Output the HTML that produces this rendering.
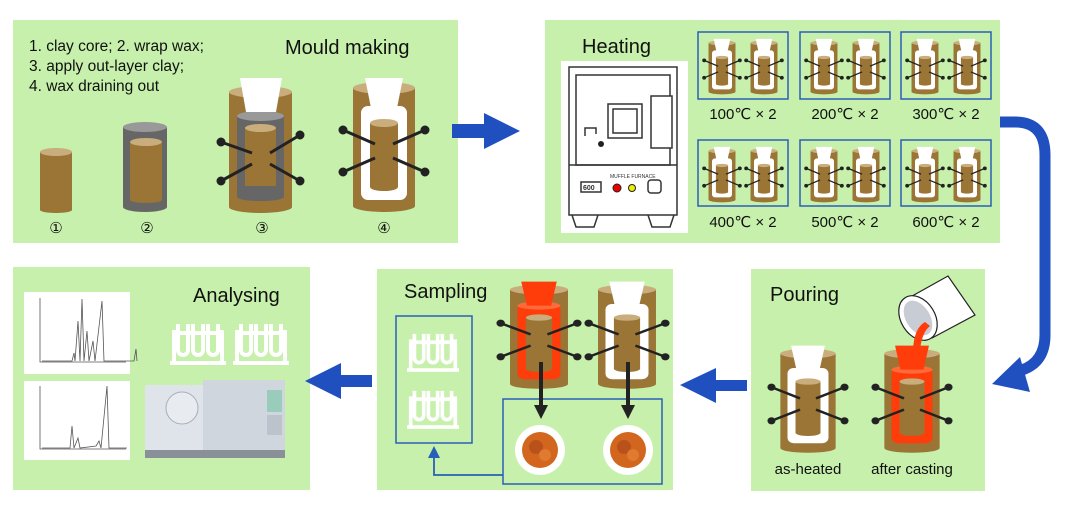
<!DOCTYPE html>
<html><head><meta charset="utf-8"><style>
html,body{margin:0;padding:0;background:#fff;}
svg{display:block;font-family:"Liberation Sans","DejaVu Sans",sans-serif;}
</style></head><body>
<svg width="1080" height="512" viewBox="0 0 1080 512" xmlns="http://www.w3.org/2000/svg">
<defs>
<g id="pins" stroke="#222" stroke-width="3" fill="#222">
  <line x1="-10" y1="52" x2="22" y2="66"/><line x1="72" y1="52" x2="40" y2="66"/>
  <line x1="-10" y1="94" x2="22" y2="80"/><line x1="72" y1="94" x2="40" y2="80"/>
  <circle cx="-10" cy="52" r="3"/><circle cx="72" cy="52" r="3"/>
  <circle cx="-10" cy="94" r="3"/><circle cx="72" cy="94" r="3"/>
</g>
<symbol id="mw" viewBox="-15 -2 92 140" preserveAspectRatio="none">
  <rect x="0" y="10" width="62" height="118" fill="#9a7535"/>
  <ellipse cx="31" cy="128" rx="31" ry="6" fill="#9a7535"/>
  <ellipse cx="31" cy="10" rx="31" ry="6" fill="#c9ad7c"/>
  <rect x="8" y="28" width="46" height="94" rx="7" fill="#fff"/>
  <rect x="17" y="45" width="28" height="64" fill="#9a7535"/>
  <ellipse cx="31" cy="109" rx="14" ry="4" fill="#9a7535"/>
  <ellipse cx="31" cy="45" rx="14" ry="4" fill="#c9ad7c"/>
  <polygon points="12,0 50,0 44,30 18,30" fill="#fff"/>
  <use href="#pins"/>
</symbol>
<symbol id="mo" viewBox="-15 -2 92 140" preserveAspectRatio="none">
  <rect x="0" y="10" width="62" height="118" fill="#9a7535"/>
  <ellipse cx="31" cy="128" rx="31" ry="6" fill="#9a7535"/>
  <ellipse cx="31" cy="10" rx="31" ry="6" fill="#c9ad7c"/>
  <rect x="8" y="28" width="46" height="94" rx="7" fill="#ff3d0a"/>
  <ellipse cx="31" cy="30" rx="23" ry="5" fill="#ff6a3a"/>
  <rect x="17" y="45" width="28" height="64" fill="#9a7535"/>
  <ellipse cx="31" cy="109" rx="14" ry="4" fill="#9a7535"/>
  <ellipse cx="31" cy="45" rx="14" ry="4" fill="#c9ad7c"/>
  <polygon points="12,0 50,0 44,30 18,30" fill="#ff3d0a"/>
  <use href="#pins"/>
</symbol>
<symbol id="rack" viewBox="0 0 56 46">
  <g fill="none" stroke="#fff" stroke-width="4">
    <path d="M8,4 V30 a5,5 0 0 0 10,0 V4"/>
    <path d="M23,4 V30 a5,5 0 0 0 10,0 V4"/>
    <path d="M38,4 V30 a5,5 0 0 0 10,0 V4"/>
    <line x1="4" y1="13" x2="52" y2="13"/>
    <line x1="4" y1="10" x2="4" y2="42"/><line x1="52" y1="10" x2="52" y2="42"/>
    <line x1="0" y1="43" x2="56" y2="43"/>
  </g>
</symbol>
<symbol id="plate" viewBox="0 0 50 50">
  <circle cx="25" cy="25" r="25" fill="#fff"/>
  <circle cx="25" cy="25" r="18" fill="#d2661e"/>
  <circle cx="21" cy="22" r="7" fill="#b8521a"/><circle cx="30" cy="30" r="6" fill="#e07a30"/>
</symbol>
</defs>

<rect x="13" y="20" width="445" height="223" fill="#c6f0ab"/>
<rect x="545" y="20" width="455" height="223" fill="#c6f0ab"/>
<rect x="13" y="267" width="297" height="223" fill="#c6f0ab"/>
<rect x="377" y="269" width="296" height="221" fill="#c6f0ab"/>
<rect x="751" y="269" width="234" height="222" fill="#c6f0ab"/>

<g font-size="15.5" fill="#111">
<text x="29" y="51">1. clay core; 2. wrap wax;</text>
<text x="29" y="71">3. apply out-layer clay;</text>
<text x="29" y="91">4. wax draining out</text>
</g>
<text x="285" y="54" font-size="20" fill="#111">Mould making</text>
<rect x="40" y="152" width="32" height="58" fill="#9a7535"/>
<ellipse cx="56" cy="210" rx="16" ry="3" fill="#9a7535"/>
<ellipse cx="56" cy="152" rx="16" ry="4" fill="#c9ad7c"/>
<rect x="123" y="127" width="44" height="80" fill="#666"/>
<ellipse cx="145" cy="207" rx="22" ry="5" fill="#666"/>
<ellipse cx="145" cy="127" rx="22" ry="5" fill="#999"/>
<rect x="130" y="142" width="32" height="58" fill="#9a7535"/>
<ellipse cx="146" cy="200" rx="16" ry="3" fill="#9a7535"/>
<ellipse cx="146" cy="142" rx="16" ry="4" fill="#c9ad7c"/>
<rect x="229" y="92" width="63" height="115" fill="#9a7535"/>
<ellipse cx="260.5" cy="207" rx="31.5" ry="6" fill="#9a7535"/>
<ellipse cx="260.5" cy="92" rx="31.5" ry="6" fill="#c9ad7c"/>
<rect x="237" y="115" width="47" height="82" fill="#666"/>
<ellipse cx="260.5" cy="197" rx="23.5" ry="4" fill="#666"/>
<ellipse cx="260.5" cy="116" rx="23.5" ry="5" fill="#999"/>
<rect x="245" y="128" width="31" height="58" fill="#9a7535"/>
<ellipse cx="260.5" cy="128" rx="15.5" ry="4" fill="#c9ad7c"/>
<polygon points="240,78 282,78 276,112 246,112" fill="#fff"/>
<g stroke="#222" stroke-width="3" fill="#222">
<line x1="221" y1="142" x2="252" y2="153"/><line x1="300" y1="135" x2="270" y2="153"/>
<line x1="221" y1="181" x2="252" y2="164"/><line x1="300" y1="181" x2="270" y2="164"/>
<circle cx="221" cy="142" r="3"/><circle cx="300" cy="135" r="3"/><circle cx="221" cy="181" r="3"/><circle cx="300" cy="181" r="3"/>
</g>
<use href="#mw" x="338" y="76" width="92" height="140"/>
<g font-size="15" fill="#111" text-anchor="middle">
<text x="56" y="233">①</text><text x="147" y="233">②</text><text x="262" y="233">③</text><text x="384" y="233">④</text>
</g>

<polygon points="452,124 484,124 484,113 520,131 484,149 484,138 452,138" fill="#2050c0"/>

<text x="582" y="53" font-size="20" fill="#111">Heating</text>
<rect x="561" y="61" width="127" height="172" fill="#fff"/>
<g fill="none" stroke="#333" stroke-width="1.5">
<rect x="569" y="67" width="108" height="148"/>
<rect x="576" y="75" width="94" height="90"/>
<line x1="569" y1="165" x2="677" y2="165"/>
<rect x="608" y="104" width="34" height="34"/><rect x="613" y="109" width="24" height="24"/>
<rect x="651" y="96" width="21" height="52" fill="#fff"/>
<path d="M585,136 V128 H596 V134"/>
<path d="M572,215 l4,12 h18 l4,-12 M648,215 l4,12 h18 l4,-12"/>
<rect x="581" y="182" width="20" height="10"/>
<rect x="648" y="180" width="13" height="13" rx="3"/>
</g>
<circle cx="601" cy="144" r="3" fill="#222"/>
<text x="610" y="178" font-size="5" fill="#333">MUFFLE FURNACE</text>
<text x="583" y="190" font-size="7" font-weight="bold" fill="#333">600</text>
<circle cx="617" cy="188" r="4" fill="#e00" stroke="#222"/>
<circle cx="632" cy="188" r="3.5" fill="#ee0" stroke="#222"/>
<g fill="none" stroke="#2a5fb8" stroke-width="1.5">
<rect x="698" y="32" width="90" height="67"/><rect x="800" y="32" width="90" height="67"/><rect x="901" y="32" width="90" height="67"/>
<rect x="698" y="140" width="90" height="66"/><rect x="800" y="140" width="90" height="66"/><rect x="901" y="140" width="90" height="66"/>
</g>
<g>
<use href="#mw" x="702" y="38" width="40" height="58"/><use href="#mw" x="744" y="38" width="40" height="58"/>
<use href="#mw" x="804" y="38" width="40" height="58"/><use href="#mw" x="846" y="38" width="40" height="58"/>
<use href="#mw" x="905" y="38" width="40" height="58"/><use href="#mw" x="947" y="38" width="40" height="58"/>
<use href="#mw" x="702" y="146" width="40" height="58"/><use href="#mw" x="744" y="146" width="40" height="58"/>
<use href="#mw" x="804" y="146" width="40" height="58"/><use href="#mw" x="846" y="146" width="40" height="58"/>
<use href="#mw" x="905" y="146" width="40" height="58"/><use href="#mw" x="947" y="146" width="40" height="58"/>
</g>
<g font-size="15" fill="#111" text-anchor="middle">
<text x="743" y="119">100℃ × 2</text><text x="845" y="119">200℃ × 2</text><text x="946" y="119">300℃ × 2</text>
<text x="743" y="227">400℃ × 2</text><text x="845" y="227">500℃ × 2</text><text x="946" y="227">600℃ × 2</text>
</g>

<path d="M1000,122 H1015 Q1045,122 1045,155 V335 Q1045,362 1022,370" fill="none" stroke="#2050c0" stroke-width="11"/>
<polygon points="992,384 1020,357 1030,392" fill="#2050c0"/>

<text x="770" y="301" font-size="20" fill="#111">Pouring</text>
<use href="#mw" x="767" y="344" width="82" height="112"/>
<use href="#mo" x="871" y="344" width="82" height="112"/>
<g>
<polygon points="905,300 948,276 975,315 932,338" fill="#fff" stroke="#222" stroke-width="1.2"/>
<ellipse cx="918" cy="318" rx="17" ry="24" transform="rotate(-32 918 318)" fill="#fff" stroke="#222" stroke-width="1.2"/>
<ellipse cx="918" cy="318" rx="12" ry="19" transform="rotate(-32 918 318)" fill="#c8ccd4"/>
<path d="M930,326 q-8,6 -10,24 h-7 q1,-22 12,-28z" fill="#ff3d0a"/>
</g>
<g font-size="15" fill="#111" text-anchor="middle">
<text x="808" y="474">as-heated</text><text x="912" y="474">after casting</text>
</g>

<polygon points="747,380 716,380 716,368 680,385 716,403 716,391 747,391" fill="#2050c0"/>

<text x="404" y="298" font-size="20" fill="#111">Sampling</text>
<rect x="396" y="316" width="76" height="127" fill="none" stroke="#2a5fb8" stroke-width="1.5"/>
<use href="#rack" x="407" y="330" width="52" height="43"/>
<use href="#rack" x="407" y="387" width="52" height="43"/>
<use href="#mo" x="496" y="280" width="86" height="112"/>
<use href="#mw" x="584" y="280" width="86" height="112"/>
<rect x="503" y="399" width="159" height="85" fill="none" stroke="#2a5fb8" stroke-width="1.5"/>
<g stroke="#222" stroke-width="4"><line x1="541" y1="362" x2="541" y2="408"/><line x1="628" y1="362" x2="628" y2="408"/></g>
<polygon points="534,405 548,405 541,419" fill="#222"/><polygon points="621,405 635,405 628,419" fill="#222"/>
<use href="#plate" x="515" y="425" width="50" height="50"/>
<use href="#plate" x="603" y="425" width="50" height="50"/>
<path d="M503,475 H434 V457" fill="none" stroke="#2a5fb8" stroke-width="1.8"/>
<polygon points="428,458 440,458 434,446" fill="#2a5fb8"/>

<polygon points="372,375 341,375 341,363 305,381 341,399 341,387 372,387" fill="#2050c0"/>

<text x="193" y="302" font-size="20" fill="#111">Analysing</text>
<rect x="24" y="292" width="106" height="82" fill="#fff"/>
<rect x="24" y="381" width="106" height="79" fill="#fff"/>
<g fill="none" stroke="#555" stroke-width="0.8">
<path d="M40,298 V362 H126"/>
<path d="M42,361 h30 l2,-8 l1,8 l3,-40 l2,40 l2,-62 l2,62 l3,-30 l2,30 l4,-20 l2,20 l7,-60 l2,60 l30,0 l2,-12 l1,12"/>
<path d="M40,386 V449 H126"/>
<path d="M42,448 h28 l2,-22 l2,22 l4,-10 l2,10 l16,-2 l3,-5 l2,7 l6,-62 l2,62 h18"/>
</g>
<use href="#rack" x="170" y="320" width="56" height="46"/>
<use href="#rack" x="233" y="320" width="56" height="46"/>
<rect x="145" y="385" width="97" height="73" fill="#dfe4ea"/>
<rect x="203" y="380" width="82" height="78" fill="#cfd6de"/>
<rect x="145" y="450" width="140" height="8" fill="#8a9098"/>
<circle cx="182" cy="408" r="16" fill="#e8ecf0" stroke="#aab" stroke-width="1"/>
<rect x="267" y="390" width="15" height="22" fill="#9cb"/>
<rect x="267" y="415" width="15" height="20" fill="#bcc3cc"/>
</svg>
</body></html>
